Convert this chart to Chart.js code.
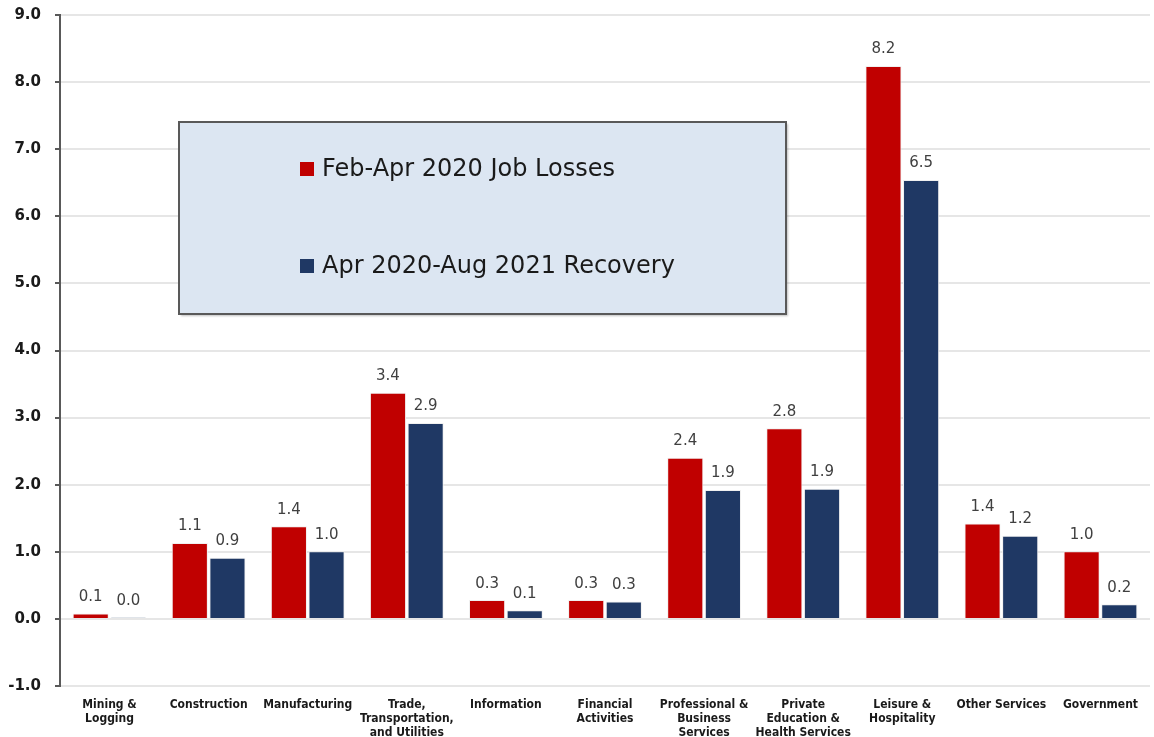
<!DOCTYPE html>
<html lang="en">
<head>
  <meta charset="UTF-8">
  <title>Job Losses and Recovery by Industry</title>
  <style>
    html, body { margin: 0; padding: 0; background: #ffffff; }
    #wrap { position: relative; width: 1154px; height: 737px; }
  </style>
</head>
<body>
  <div id="wrap"><canvas id="chartJobs"></canvas></div>

  <script src="https://cdn.jsdelivr.net/npm/chart.js"></script>
  <script>
    // industries (multi-line tick labels)
    const industries = [
      ['Mining &', 'Logging'],
      ['Construction'],
      ['Manufacturing'],
      ['Trade,', 'Transportation,', 'and Utilities'],
      ['Information'],
      ['Financial', 'Activities'],
      ['Professional &', 'Business', 'Services'],
      ['Private', 'Education &', 'Health Services'],
      ['Leisure &', 'Hospitality'],
      ['Other Services'],
      ['Government']
    ];
    const seriesNames = ['Feb-Apr 2020 Job Losses', 'Apr 2020-Aug 2021 Recovery'];
    const jobLosses = [0.08, 1.13, 1.38, 3.37, 0.28, 0.28, 2.40, 2.84, 8.24, 1.42, 1.01];
    const recovery  = [0.02, 0.91, 1.01, 2.92, 0.13, 0.26, 1.92, 1.94, 6.54, 1.24, 0.22];
    const yTicks = [-1, 0, 1, 2, 3, 4, 5, 6, 7, 8, 9];

    const RED = '#c00000';
    const NAVY = '#1f3864';

    // value labels above each bar
    const valueLabels = {
      id: 'valueLabels',
      afterDatasetsDraw(chart) {
        const ctx = chart.ctx;
        ctx.save();
        ctx.font = '15px "DejaVu Sans"';
        ctx.fillStyle = '#404040';
        ctx.textAlign = 'center';
        ctx.textBaseline = 'bottom';
        chart.data.datasets.forEach((ds, i) => {
          chart.getDatasetMeta(i).data.forEach((bar, j) => {
            ctx.fillText(ds.data[j].toFixed(1), bar.x, bar.y - 9);
          });
        });
        ctx.restore();
      }
    };

    // boxed legend inside the plot
    const boxLegend = {
      id: 'boxLegend',
      afterDatasetsDraw(chart) {
        const ctx = chart.ctx;
        const a = chart.chartArea;
        const x = a.left + 119, y = a.top + 107, w = 607, h = 192;
        ctx.save();
        ctx.shadowColor = 'rgba(0,0,0,0.25)';
        ctx.shadowOffsetX = 2;
        ctx.shadowOffsetY = 2;
        ctx.shadowBlur = 2;
        ctx.fillStyle = '#dce6f2';
        ctx.fillRect(x, y, w, h);
        ctx.shadowColor = 'transparent';
        ctx.strokeStyle = '#595959';
        ctx.lineWidth = 2;
        ctx.strokeRect(x, y, w, h);

        const colors = [RED, NAVY];
        ctx.font = '24px "DejaVu Sans"';
        ctx.textBaseline = 'middle';
        seriesNames.forEach((name, i) => {
          const cy = y + 47 + i * 97;
          ctx.fillStyle = colors[i];
          ctx.fillRect(x + 121, cy - 7, 14, 14);
          ctx.fillStyle = '#1a1a1a';
          ctx.fillText(name, x + 143, cy + 1);
        });
        ctx.restore();
      }
    };

    new Chart(document.getElementById('chartJobs'), {
      type: 'bar',
      data: {
        labels: industries,
        datasets: [
          { label: seriesNames[0], data: jobLosses, backgroundColor: RED, borderColor: '#f0f0f0', borderWidth: 1 },
          { label: seriesNames[1], data: recovery, backgroundColor: NAVY, borderColor: '#f0f0f0', borderWidth: 1 }
        ]
      },
      options: {
        responsive: true,
        maintainAspectRatio: false,
        animation: false,
        categoryPercentage: 0.76,
        barPercentage: 0.96,
        layout: { padding: { top: 15, right: 4, left: 0, bottom: 0 } },
        plugins: {
          legend: { display: false },
          tooltip: { enabled: false }
        },
        scales: {
          x: {
            grid: { display: false },
            border: { display: false },
            ticks: {
              color: '#1a1a1a',
              font: { family: '"DejaVu Sans Condensed", "DejaVu Sans"', size: 12, weight: 'bold', lineHeight: '14px' },
              maxRotation: 0,
              autoSkip: false,
              padding: 4
            },
            afterFit(scale) {
              scale.height = 51;
              scale.paddingTop = 0;
              scale.paddingBottom = 0;
            }
          },
          y: {
            min: -1,
            max: 9,
            afterBuildTicks(scale) { scale.ticks = yTicks.map(v => ({ value: v })); },
            grid: { color: '#e6e6e6', lineWidth: 2, tickColor: '#595959', tickLength: 5 },
            border: { color: '#595959', width: 2 },
            ticks: {
              color: '#1a1a1a',
              font: { family: '"DejaVu Sans"', size: 15, weight: 'bold' },
              padding: 14,
              callback: v => v.toFixed(1)
            },
            afterFit(scale) {
              scale.width = 60;
              scale.paddingTop = 0;
              scale.paddingBottom = 0;
            }
          }
        }
      },
      plugins: [boxLegend, valueLabels]
    });
  </script>
</body>
</html>
